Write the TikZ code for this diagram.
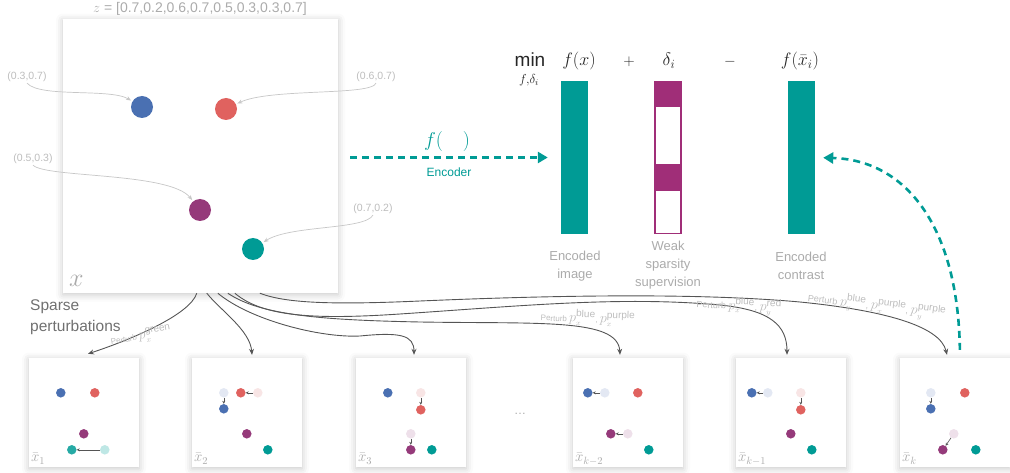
\RequirePackage{fix-cm}
\documentclass[tikz,border=0pt]{standalone}
\usepackage{amsmath}
\usepackage{fontspec}
\setmainfont{Liberation Sans}
\usetikzlibrary{arrows.meta,shadows.blur}

\definecolor{cteal}{HTML}{009B95}
\definecolor{cblue}{HTML}{4A70B2}
\definecolor{cred}{HTML}{E0625F}
\definecolor{cpurple}{HTML}{953A7A}
\definecolor{cbar}{HTML}{A02E78}
\definecolor{fblue}{HTML}{E3E8F3}
\definecolor{fred}{HTML}{F8E5E5}
\definecolor{fpurple}{HTML}{EEE0EA}
\definecolor{fteal}{HTML}{BEE7E5}
\definecolor{lbl}{HTML}{ABABAB}
\definecolor{pale}{HTML}{BDBDBD}
\definecolor{ink}{HTML}{555555}
\definecolor{headline}{HTML}{707070}

% small dot placed relative to the north west corner of a panel
\newcommand\pdot[4]{\node[smalldot, fill=#2] (#1) at ([shift={#3}]#4.north west) {};}
% coordinate variable p with a colour name on top and an axis below
\newcommand\pvar[2]{\mbox{\fontsize{14}{14}\selectfont$p^{\mbox{\fontsize{10}{10}\selectfont #1}}_{\mbox{\fontsize{7.5}{8}\selectfont$#2$}}$}}

\begin{document}
\begin{tikzpicture}[x=1pt,y=-1pt,
  panel/.style={fill=white, inner sep=0pt,
    blur shadow={shadow xshift=0pt, shadow yshift=-1.5pt, shadow blur radius=7pt, shadow opacity=22}},
  bigdot/.style={circle, inner sep=0pt, minimum size=22pt},
  smalldot/.style={circle, inner sep=0pt, minimum size=9.5pt},
  coordlbl/.style={text=pale, font=\fontsize{10.5}{12}\selectfont, inner sep=1pt},
  pointer/.style={draw=pale!85, line width=0.7pt, shorten >=1.5pt, -{Stealth[length=5pt,width=4pt]}},
  nudge/.style={draw=ink, line width=0.6pt, -{Stealth[length=3pt,width=3pt]}},
  perturb/.style={draw=ink, line width=0.9pt, -{Stealth[length=6pt,width=5pt]}},
  plabel/.style={text=pale, font=\fontsize{9}{11}\selectfont, inner sep=0pt},
  smallplabel/.style={plabel, font=\fontsize{8}{10}\selectfont},
  enc/.style={draw=cteal, line width=2.6pt, dash pattern=on 7pt off 5pt, -{Triangle[length=10pt,width=11pt]}},
  bar/.style={inner sep=0pt, minimum width=27pt, minimum height=153pt},
  barlbl/.style={text=lbl, font=\fontsize{13}{18}\selectfont, align=center},
  head/.style={text=black!85, font=\fontsize{18}{20}\selectfont},
  boxlbl/.style={text=lbl, font=\fontsize{15}{16}\selectfont, anchor=base west, inner sep=0pt}
]
\useasboundingbox (0,0) rectangle (1010,473);

% ---------- input image ----------
\node[panel, minimum width=275pt, minimum height=274pt] (img) at (200.5,156) {};
\node[text=lbl, font=\fontsize{14}{16}\selectfont] (zvec) at (200,9) {$z$ = [0.7,0.2,0.6,0.7,0.5,0.3,0.3,0.7]};
\node[text=lbl, font=\fontsize{26}{28}\selectfont, anchor=base west, inner sep=0pt] (xname) at (69,287) {$x$};

\node[bigdot, fill=cblue] (dB) at (142,107) {};
\node[bigdot, fill=cred] (dR) at (226,109) {};
\node[bigdot, fill=cpurple] (dP) at (200,210) {};
\node[bigdot, fill=cteal] (dT) at (253,249) {};

\node[coordlbl] (cB) at (27,77) {(0.3,0.7)};
\node[coordlbl] (cR) at (376,77) {(0.6,0.7)};
\node[coordlbl] (cP) at (33,159) {(0.5,0.3)};
\node[coordlbl] (cT) at (373,209) {(0.7,0.2)};

\draw[pointer] (cB.south) .. controls (40,98) and (110,88) .. (dB);
\draw[pointer] (cR.south) .. controls (372,96) and (270,88) .. (dR);
\draw[pointer] (cP.south) .. controls (45,178) and (170,172) .. (dP);
\draw[pointer] (cT.south) .. controls (365,230) and (290,225) .. (dT);

% ---------- objective ----------
\node[bar, fill=cteal] (bar1) at (574.5,157.5) {};
\node[bar, draw=cbar, line width=1.2pt, fill=white, minimum width=26pt, minimum height=152pt] (bar2) at (668,157.5) {};
\fill[cbar] ([shift={(0,0)}]bar2.north west) rectangle ([shift={(0,26)}]bar2.north east);
\fill[cbar] ([shift={(0,83)}]bar2.north west) rectangle ([shift={(0,110)}]bar2.north east);
\node[bar, fill=cteal] (bar3) at (801.5,157.5) {};

\node[text=black!85, font=\fontsize{19}{20}\selectfont] (minop) at (530,60) {min};
\node[text=black!85, font=\fontsize{13}{14}\selectfont] (minsub) at (529,80) {$f,\!\delta_i$};
\node[head] (hfx) at (579,61) {$f(x)$};
\node[head, font=\fontsize{15}{16}\selectfont] (hplus) at (629,62) {$+$};
\node[head] (hdelta) at (669,61) {$\delta_i$};
\node[head, font=\fontsize{15}{16}\selectfont] (hminus) at (730,62) {$-$};
\node[head] (hfxbar) at (800,61) {$f(\bar{x}_i)$};

\node[barlbl] (l1) at (575,266) {Encoded\\image};
\node[barlbl] (l2) at (668,265) {Weak\\sparsity\\supervision};
\node[barlbl] (l3) at (801,266) {Encoded\\contrast};

% ---------- encoder ----------
\draw[enc, shorten <=12pt, shorten >=13pt] (img.east |- bar1.west) -- (bar1.west);
\node[text=cteal, font=\fontsize{20}{22}\selectfont] (fenc) at (447,142) {$f(\quad)$};
\node[text=cteal, font=\fontsize{12}{14}\selectfont] (enclbl) at (449,172) {Encoder};

% ---------- perturbed panels ----------
\node[panel, minimum width=110pt, minimum height=109pt] (b1) at (84,412.5) {};
\node[panel, minimum width=110pt, minimum height=109pt] (b2) at (247,412.5) {};
\node[panel, minimum width=110pt, minimum height=109pt] (b3) at (411,412.5) {};
\node[panel, minimum width=110pt, minimum height=109pt] (bk2) at (628,412.5) {};
\node[panel, minimum width=110pt, minimum height=109pt] (bk1) at (791,412.5) {};
\node[panel, minimum width=110pt, minimum height=109pt] (bk) at (955,412.5) {};

% panel 1
\pdot{b1B}{cblue}{(32,35)}{b1}
\pdot{b1R}{cred}{(66,35)}{b1}
\pdot{b1P}{cpurple}{(55,76)}{b1}
\pdot{b1Tf}{fteal}{(76,92)}{b1}
\pdot{b1T}{cteal!85}{(43,92)}{b1}
\draw[nudge] (b1Tf) -- (b1T);
% panel 2
\pdot{b2Bf}{fblue}{(32,35)}{b2}
\pdot{b2B}{cblue}{(32,51)}{b2}
\pdot{b2Rf}{fred}{(66,35)}{b2}
\pdot{b2R}{cred}{(49,35)}{b2}
\pdot{b2P}{cpurple}{(55,76)}{b2}
\pdot{b2T}{cteal}{(76,92)}{b2}
\draw[nudge] (b2Bf) -- (b2B);
\draw[nudge] (b2Rf) -- (b2R);
% panel 3
\pdot{b3B}{cblue}{(32,35)}{b3}
\pdot{b3Rf}{fred}{(65,35)}{b3}
\pdot{b3R}{cred}{(65,52)}{b3}
\pdot{b3Pf}{fpurple}{(55,76)}{b3}
\pdot{b3P}{cpurple}{(55,92)}{b3}
\pdot{b3T}{cteal}{(76,92)}{b3}
\draw[nudge] (b3Rf) -- (b3R);
\draw[nudge] (b3Pf) -- (b3P);
% panel k-2
\pdot{bk2Bf}{fblue}{(32,35)}{bk2}
\pdot{bk2B}{cblue}{(15,35)}{bk2}
\pdot{bk2R}{cred}{(65,35)}{bk2}
\pdot{bk2Pf}{fpurple}{(55,76)}{bk2}
\pdot{bk2P}{cpurple}{(38,76)}{bk2}
\pdot{bk2T}{cteal}{(76,92)}{bk2}
\draw[nudge] (bk2Bf) -- (bk2B);
\draw[nudge] (bk2Pf) -- (bk2P);
% panel k-1
\pdot{bk1Bf}{fblue}{(32,35)}{bk1}
\pdot{bk1B}{cblue}{(16,35)}{bk1}
\pdot{bk1Rf}{fred}{(65,35)}{bk1}
\pdot{bk1R}{cred}{(65,52)}{bk1}
\pdot{bk1P}{cpurple}{(55,76)}{bk1}
\pdot{bk1T}{cteal}{(76,92)}{bk1}
\draw[nudge] (bk1Bf) -- (bk1B);
\draw[nudge] (bk1Rf) -- (bk1R);
% panel k
\pdot{bkBf}{fblue}{(31,35)}{bk}
\pdot{bkB}{cblue}{(31,51)}{bk}
\pdot{bkR}{cred}{(65,35)}{bk}
\pdot{bkPf}{fpurple}{(54,76)}{bk}
\pdot{bkP}{cpurple}{(43,92)}{bk}
\pdot{bkT}{cteal}{(76,92)}{bk}
\draw[nudge] (bkBf) -- (bkB);
\draw[nudge] (bkPf) -- (bkP);

\node[boxlbl] (n1) at ([shift={(2,104)}]b1.north west) {$\bar{x}_1$};
\node[boxlbl] (n2) at ([shift={(2,104)}]b2.north west) {$\bar{x}_2$};
\node[boxlbl] (n3) at ([shift={(2,104)}]b3.north west) {$\bar{x}_3$};
\node[boxlbl] (nk2) at ([shift={(2,104)}]bk2.north west) {$\bar{x}_{k-2}$};
\node[boxlbl] (nk1) at ([shift={(2,104)}]bk1.north west) {$\bar{x}_{k-1}$};
\node[boxlbl] (nk) at ([shift={(2,104)}]bk.north west) {$\bar{x}_k$};

\node[text=lbl, font=\fontsize{12}{14}\selectfont] (gap) at (520,414) {\ldots};

\node[text=headline, font=\fontsize{15.5}{21}\selectfont, align=left, anchor=west, inner sep=0pt] (sparse) at (30,317) {Sparse\\perturbations};

% ---------- perturbation arrows ----------
\draw[perturb] ([xshift=134pt]img.south west) .. controls (190,315) and (130,340) .. ([shift={(4,-4)}]b1.north);
\draw[perturb] ([xshift=144pt]img.south west) .. controls (220,310) and (250,330) .. ([shift={(5,-3)}]b2.north);
\draw[perturb] ([xshift=155pt]img.south west) .. controls (250,320) and (320,338) .. (360,336)
  .. controls (400,332) and (414,335) .. ([shift={(3,-3)}]b3.north);
\draw[perturb] ([xshift=165pt]img.south west) .. controls (260,315) and (320,320) .. (420,322)
  .. controls (540,324) and (618,318) .. ([shift={(-8,-3)}]bk2.north);
\draw[perturb] ([xshift=172pt]img.south west) .. controls (262,316) and (310,320) .. (400,314)
  .. controls (520,306) and (620,296) .. (720,305)
  .. controls (770,310) and (787,325) .. ([shift={(-4,-3)}]bk1.north);
\draw[perturb] ([xshift=197pt]img.south west) .. controls (285,303) and (330,305) .. (420,301)
  .. controls (560,295) and (700,293) .. (800,302)
  .. controls (880,310) and (940,325) .. ([shift={(-8,-3)}]bk.north);

\node[smallplabel, rotate=10] (p1) at (141,336) {Perturb \pvar{green}{x}};
\node[smallplabel, rotate=-2] (p2) at (588,318) {Perturb \pvar{blue}{x}, \pvar{purple}{x}};
\node[plabel, rotate=-3] (p3) at (739,306) {Perturb \pvar{blue}{x}, \pvar{red}{y}};
\node[plabel, rotate=-7] (p4) at (877,306) {Perturb \pvar{blue}{y}, \pvar{purple}{x}, \pvar{purple}{y}};

% ---------- contrast encoding ----------
\draw[enc, shorten <=8pt, shorten >=8pt] ([xshift=5pt]bk.north) .. controls (958,225) and (905,160) .. (bar3.east);

\end{tikzpicture}
\end{document}
